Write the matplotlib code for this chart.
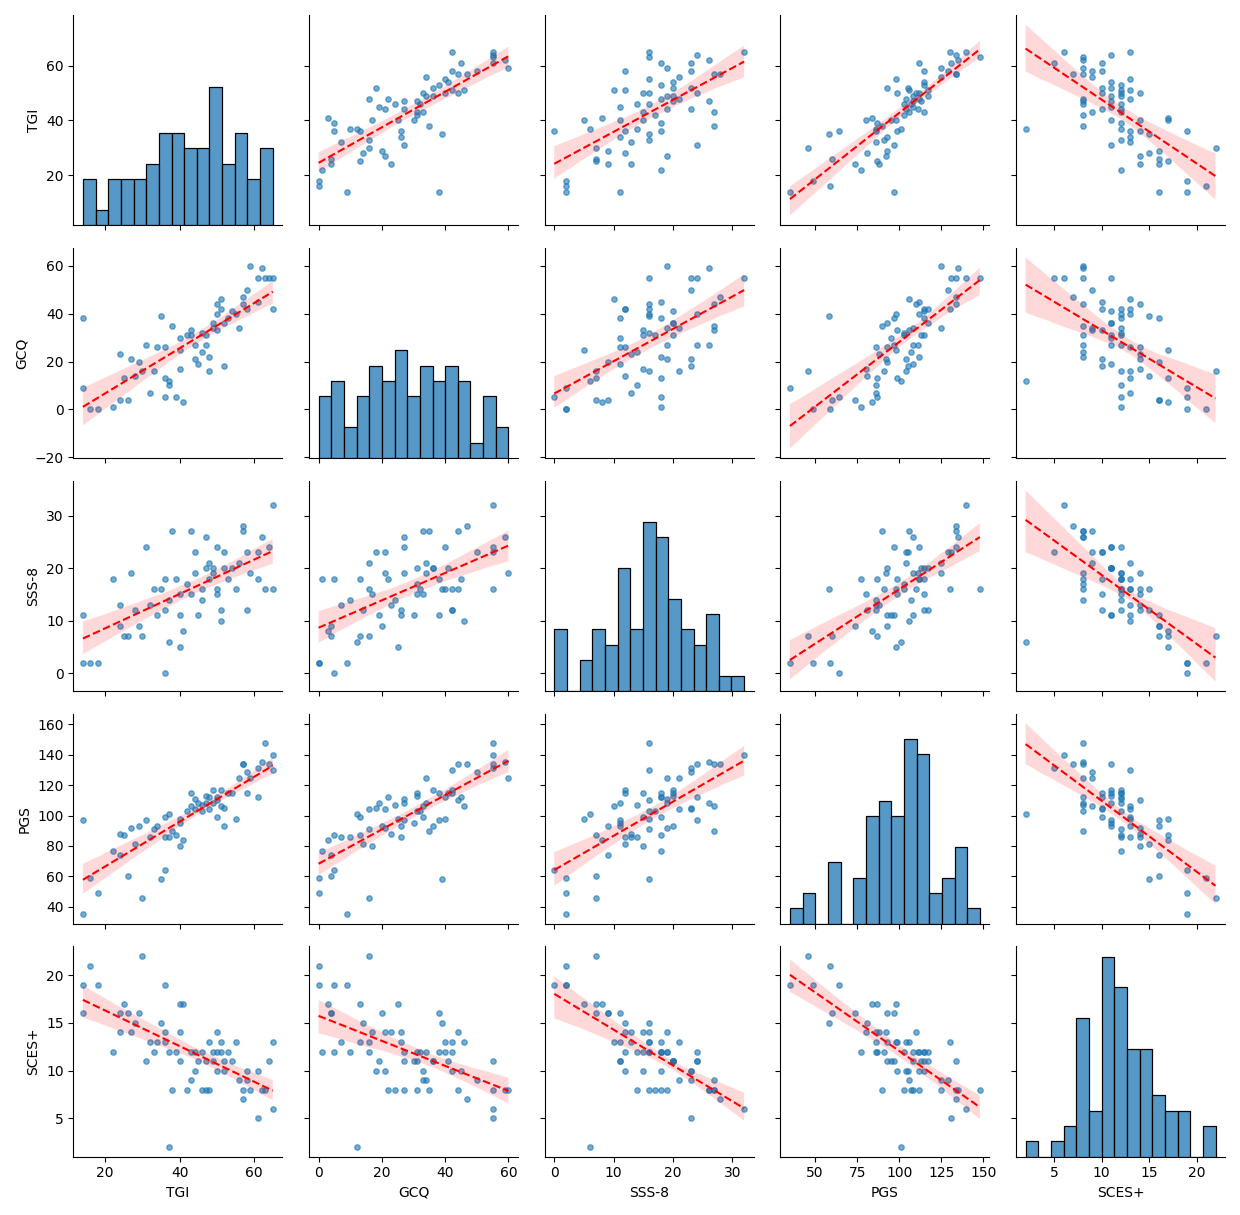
import numpy as np
import pandas as pd
import seaborn as sns
import matplotlib
matplotlib.use("Agg")
import matplotlib.pyplot as plt

tgi = [14,14,16,18,22,24,24,25,26,27,28,30,31,32,33,34,35,36,36,37,37,38,39,40,40,41,42,43,43,44,44,45,46,46,47,47,48,48,49,49,50,50,50,51,51,52,52,53,54,55,56,57,57,58,58,59,61,61,62,63,64,65,65,36,29,40]
gcq = [38,9,0,0,1,23,4,13,4,21,14,16,27,7,16,26,39,5,13,12,10,35,5,17,25,3,31,31,33,21,27,19,24,32,27,31,16,22,34,36,44,40,33,46,42,36,18,38,41,40,34,44,47,50,42,60,45,55,59,55,55,42,55,26,20,30]
sss = [11,2,2,2,18,13,9,7,7,19,12,7,24,13,16,11,16,0,18,6,14,27,18,15,5,8,17,15,27,23,19,11,14,16,26,20,21,18,19,20,16,24,15,10,12,20,23,18,20,16,21,27,28,23,12,19,18,23,26,16,24,16,32,12,9,11]
pgs = [97,35,59,49,77,88,74,87,60,92,81,46,97,86,91,93,58,64,99,101,86,90,87,80,98,84,103,115,106,104,111,108,107,103,108,113,104,112,108,117,110,112,99,106,117,93,105,115,115,98,125,134,134,129,115,125,112,131,135,148,134,130,140,86,93,95]
sces = [16,19,21,19,12,14,16,17,16,14,15,22,11,13,12,13,15,19,13,2,12,8,12,14,17,17,8,12,9,10,12,11,8,12,8,11,13,8,12,11,14,12,10,13,12,11,10,12,11,13,9,8,7,9,10,8,10,5,8,8,11,13,6,14,16,11]

df = pd.DataFrame({"TGI": tgi, "GCQ": gcq, "SSS-8": sss, "PGS": pgs, "SCES+": sces})

g = sns.pairplot(df, kind="reg", diag_kind="hist", height=2.45,
                 plot_kws={"scatter_kws": {"s": 15, "alpha": 0.6},
                           "line_kws": {"color": "red", "ls": "--", "lw": 1.5}},
                 diag_kws={"bins": 15})
g.figure.set_size_inches(12.4, 12.15)
g.figure.tight_layout()
g.figure.savefig("out.png", dpi=100)
